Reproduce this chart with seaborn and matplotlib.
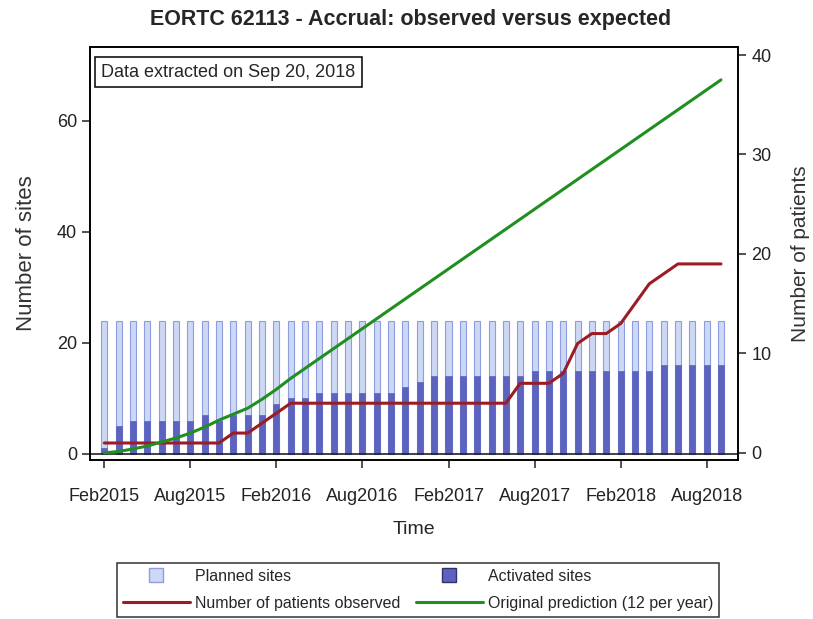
import numpy as np
import pandas as pd
import matplotlib
matplotlib.use("Agg")
import matplotlib.pyplot as plt
from matplotlib.lines import Line2D
import seaborn as sns

# monthly categories Feb2015 .. Sep2018
months = pd.date_range("2015-02-01", "2018-09-01", freq="MS").strftime("%b%Y").tolist()

planned_sites = [24] * 44

activated_sites = [1, 5, 6, 6, 6, 6, 6, 7, 6, 7,
                   7, 7, 9, 10, 10, 11, 11, 11, 11, 11,
                   11, 12, 13, 14, 14, 14, 14, 14, 14, 14,
                   15, 15, 15, 15, 15, 15, 15, 15, 15, 16,
                   16, 16, 16, 16]

patients_observed = [1, 1, 1, 1, 1, 1, 1, 1, 1, 2,
                     2, 3, 4, 5, 5, 5, 5, 5, 5, 5,
                     5, 5, 5, 5, 5, 5, 5, 5, 5, 7,
                     7, 7, 8, 11, 12, 12, 13, 15, 17, 18,
                     19, 19, 19, 19]

patients_expected = [0, 0.15, 0.4, 0.7, 1.1, 1.5, 2.0, 2.6, 3.3, 3.9,
                     4.5, 5.4, 6.4, 7.5, 8.5, 9.5, 10.5, 11.5, 12.5, 13.5,
                     14.5, 15.5, 16.5, 17.5, 18.5, 19.5, 20.5, 21.5, 22.5, 23.5,
                     24.5, 25.5, 26.5, 27.5, 28.5, 29.5, 30.5, 31.5, 32.5, 33.5,
                     34.5, 35.5, 36.5, 37.5]

tick_months = ["Feb2015", "Aug2015", "Feb2016", "Aug2016",
               "Feb2017", "Aug2017", "Feb2018", "Aug2018"]

df = pd.DataFrame({
    "month": months,
    "pos": np.arange(len(months)),
    "planned": planned_sites,
    "activated": activated_sites,
    "observed": patients_observed,
    "expected": patients_expected,
})

sns.set_style("ticks")
plt.rcParams["font.family"] = ["Liberation Sans", "DejaVu Sans"]

planned_face = "#cdd8f4"
planned_edge = "#8e9de0"
activated_face = "#5b63bf"
red = "#9c1c24"
green = "#1f8f1f"

fig = plt.figure(figsize=(8.13, 6.19), dpi=100)
ax = fig.add_axes([0.111, 0.257, 0.797, 0.667])

sns.barplot(data=df, x="month", y="planned", color=planned_face, saturation=1,
            width=0.42, edgecolor=planned_edge, linewidth=0.8, errorbar=None,
            order=months, ax=ax)
sns.barplot(data=df, x="month", y="activated", color=activated_face, saturation=1,
            width=0.42, edgecolor=activated_face, linewidth=0.5, errorbar=None,
            order=months, ax=ax)
ax.axhline(0, color="#222222", lw=1.2, zorder=5)

ax.set_xlim(-0.98, 44.2)
ax.set_ylim(-1.1, 73.3)
ax.set_yticks([0, 20, 40, 60])
tick_pos = [months.index(m) for m in tick_months]
ax.set_xticks(tick_pos)
ax.set_xticklabels(tick_months)
ax.set_xlabel("Time", fontsize=14, labelpad=12)
ax.set_ylabel("Number of sites", fontsize=16, labelpad=14, color="#333333")

ax2 = ax.twinx()
sns.lineplot(data=df, x="pos", y="observed", color=red, lw=2.2, ax=ax2)
sns.lineplot(data=df, x="pos", y="expected", color=green, lw=2.2, ax=ax2)
ax2.set_ylim(-0.7, 40.8)
ax2.set_yticks([0, 10, 20, 30, 40])
ax2.set_ylabel("Number of patients", fontsize=15, labelpad=14, color="#333333")
ax2.set_xlim(-0.98, 44.2)

for a in (ax, ax2):
    for sp in a.spines.values():
        sp.set_visible(True)
        sp.set_color("black")
        sp.set_linewidth(1.2)
    a.tick_params(axis="both", labelsize=13, length=6, width=1.1, direction="out",
                  colors="#222222", labelcolor="#222222")
ax.tick_params(axis="x", pad=14)

ax.text(0.017, 0.96, "Data extracted on Sep 20, 2018", transform=ax.transAxes,
        fontsize=13, va="top", ha="left",
        bbox=dict(boxstyle="square,pad=0.35", facecolor="white", edgecolor="black", lw=1.1))

fig.suptitle("EORTC 62113 - Accrual: observed versus expected",
             fontsize=15.5, fontweight="bold", x=0.505, y=0.985)

handles = [
    Line2D([], [], marker="s", ls="none", markersize=10,
           markerfacecolor=planned_face, markeredgecolor=planned_edge),
    Line2D([], [], color=red, lw=2.2),
    Line2D([], [], marker="s", ls="none", markersize=10,
           markerfacecolor=activated_face, markeredgecolor="#333366"),
    Line2D([], [], color=green, lw=2.2),
]
labels = ["Planned sites", "Number of patients observed",
          "Activated sites", "Original prediction (12 per year)"]
leg = fig.legend(handles, labels, ncol=2, loc="lower center",
                 bbox_to_anchor=(0.514, 0.0), fontsize=11.5, frameon=True,
                 fancybox=False, edgecolor="black", handlelength=4.2,
                 handletextpad=0.3, columnspacing=1.0, borderpad=0.35,
                 labelspacing=0.75, borderaxespad=0.15)
leg.get_frame().set_linewidth(1.1)

fig.savefig("out.png", dpi=100)
